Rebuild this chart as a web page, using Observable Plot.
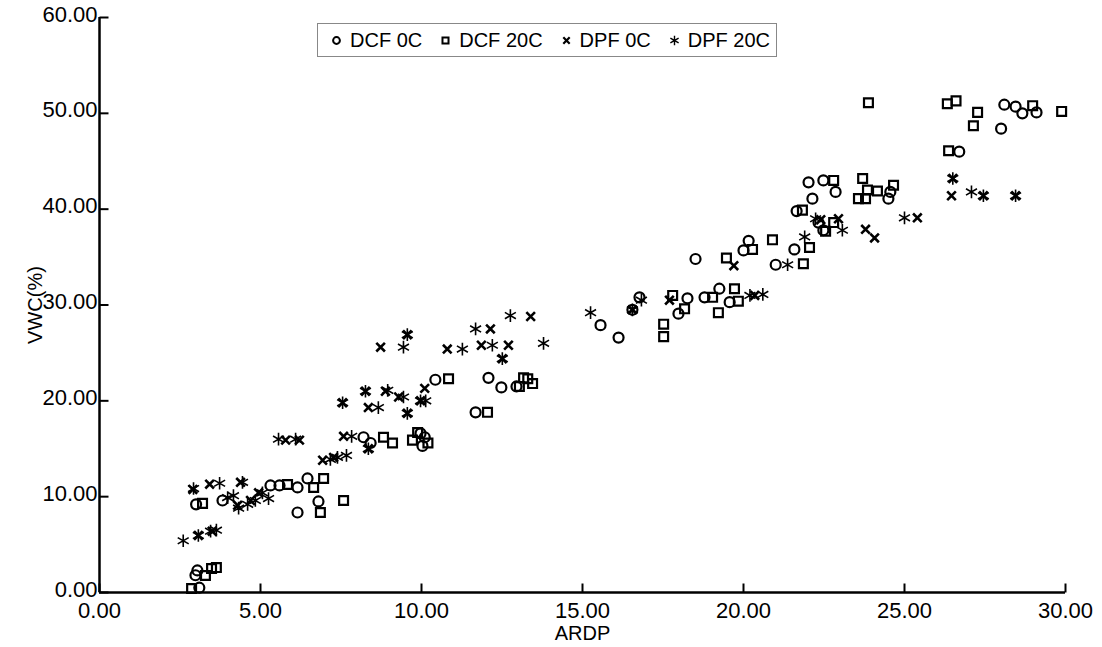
<!DOCTYPE html>
<html>
<head>
<meta charset="utf-8">
<script src="https://cdn.jsdelivr.net/npm/d3@7"></script>
<script src="https://cdn.jsdelivr.net/npm/@observablehq/plot@0.6"></script>
<style>
  html, body { margin: 0; padding: 0; background: #fff; }
  #wrap { position: relative; width: 1102px; height: 647px; font-family: "Liberation Sans", Arial, sans-serif; }
  #legend { position: absolute; left: 317px; top: 23px; width: 458px; height: 32px; border: 1px solid #888; background: #fff;
            display: flex; align-items: center; font-size: 20px; color: #000; box-sizing: content-box; }
  #legend .item { display: flex; align-items: center; margin-left: 12px; }
  #legend .item svg { margin-right: 8px; }
</style>
</head>
<body>
<div id="wrap"></div>
<script>
// ---- data ----
const xTicks = [0, 5, 10, 15, 20, 25, 30];
const yTicks = [0, 10, 20, 30, 40, 50, 60];
const seriesNames = ["DCF 0C", "DCF 20C", "DPF 0C", "DPF 20C"];
const xLabel = "ARDP";
const yLabel = "VWC(%)";

const dcf0X = [3.04,2.98,3.1,3.0,3.82,5.31,5.59,6.15,6.46,6.8,6.15,8.2,8.42,9.97,10.1,10.03,10.43,11.68,12.08,12.48,12.95,15.56,16.12,16.55,16.77,17.98,18.26,18.51,18.79,19.25,19.57,20.0,20.16,21.0,21.58,21.65,22.02,22.14,22.48,22.86,22.33,22.48,24.5,24.56,26.7,28.0,28.1,28.45,28.66,29.1];
const dcf0Y = [2.3,1.8,0.5,9.2,9.6,11.17,11.17,10.96,11.9,9.5,8.35,16.2,15.6,16.6,16.2,15.3,22.2,18.8,22.4,21.4,21.5,27.9,26.6,29.5,30.8,29.1,30.7,34.8,30.8,31.7,30.3,35.7,36.7,34.2,35.8,39.8,42.8,41.1,43.0,41.8,38.6,37.8,41.1,41.8,46.0,48.4,50.9,50.7,50.0,50.1];

const dcf20X = [2.86,3.29,3.48,3.63,3.2,5.84,6.65,6.96,6.86,7.58,8.82,9.1,9.72,9.88,10.2,10.84,12.05,13.04,13.17,13.3,13.45,17.52,17.52,17.8,18.17,19.04,19.22,19.47,19.72,19.84,20.28,20.9,21.83,21.86,22.05,22.55,22.8,22.8,23.57,23.7,23.79,23.85,23.88,24.16,24.66,26.33,26.37,26.6,27.14,27.27,28.98,29.88];
const dcf20Y = [0.42,1.77,2.5,2.6,9.3,11.27,10.96,11.9,8.35,9.6,16.2,15.6,15.9,16.7,15.6,22.3,18.8,21.5,22.4,22.3,21.8,28.0,26.7,31.0,29.6,30.8,29.2,34.9,31.7,30.4,35.8,36.8,39.9,34.3,36.0,37.7,38.6,43.0,41.1,43.2,41.1,42.0,51.1,41.9,42.5,51.0,46.1,51.3,48.7,50.1,50.8,50.2];

const dpf0X = [3.07,3.5,2.9,3.42,4.38,4.29,4.69,4.94,5.78,6.21,6.93,7.27,7.58,7.55,8.26,8.35,8.35,8.73,8.88,9.29,9.56,9.56,9.97,10.1,10.8,11.86,12.14,12.51,12.7,13.39,16.55,17.7,19.7,20.35,22.95,22.4,23.79,24.07,25.4,26.46,26.5,27.45,28.45];
const dpf0Y = [5.95,6.4,10.75,11.3,11.5,9.1,9.6,10.4,15.9,15.9,13.8,14.1,16.3,19.8,21.0,19.3,15.0,25.6,21.0,20.4,18.7,26.9,20.0,21.3,25.4,25.8,27.5,24.4,25.8,28.8,29.5,30.5,34.1,31.0,39.0,38.9,37.9,37.0,39.1,41.4,43.2,41.4,41.4];

const dpf20X = [2.6,3.07,3.45,3.63,2.92,3.73,4.44,3.98,4.16,4.32,4.6,4.84,5.06,5.25,5.56,6.09,7.17,7.39,7.67,7.83,7.55,8.26,8.35,8.66,8.95,9.44,9.44,9.56,9.56,9.97,10.13,11.27,11.68,12.2,12.51,12.76,13.79,15.25,16.55,16.83,20.2,20.6,21.37,21.9,22.24,23.07,25.0,26.5,27.08,27.45,28.45];
const dpf20Y = [5.4,5.95,6.4,6.5,10.85,11.4,11.5,9.9,10.1,8.8,9.2,9.6,10.4,9.8,16.0,16.0,13.9,14.1,14.3,16.3,19.8,21.0,15.0,19.3,21.1,20.4,25.6,18.7,26.9,20.0,20.0,25.4,27.5,25.8,24.4,28.9,26.0,29.2,29.5,30.5,31.0,31.1,34.2,37.1,39.0,37.8,39.1,43.2,41.8,41.4,41.4];

// ---- build tables ----
const toRows = (xs, ys) => xs.map((x, i) => ({x, y: ys[i]}));
const dcf0 = toRows(dcf0X, dcf0Y);
const dcf20 = toRows(dcf20X, dcf20Y);
const dpf0 = toRows(dpf0X, dpf0Y);
const dpf20 = toRows(dpf20X, dpf20Y);

// inward tick symbols
const tickUp = { draw(ctx) { ctx.moveTo(0, 0); ctx.lineTo(0, -9); } };
const tickRight = { draw(ctx) { ctx.moveTo(0, 0); ctx.lineTo(9, 0); } };

const fmt = d3.format(".2f");

const chart = Plot.plot({
  width: 1102,
  height: 647,
  marginLeft: 99,
  marginRight: 37,
  marginTop: 17,
  marginBottom: 55,
  style: { fontFamily: "Liberation Sans, Arial, sans-serif", fontSize: "22px", color: "#000", background: "#fff" },
  x: { domain: [0, 30], ticks: xTicks },
  y: { domain: [0, 60], ticks: yTicks },
  marks: [
    Plot.axisX({ ticks: xTicks, tickFormat: fmt, tickSize: 0, tickPadding: 10, label: null }),
    Plot.axisY({ ticks: yTicks, tickFormat: fmt, tickSize: 0, tickPadding: 2, dy: -3, label: null }),
    Plot.text([xLabel], { text: d => d, frameAnchor: "bottom", dy: 41, textAnchor: "middle", lineAnchor: "middle", fontSize: 20 }),
    Plot.text([yLabel], { text: d => d, frameAnchor: "left", dx: -64, rotate: -90, textAnchor: "middle", lineAnchor: "middle", fontSize: 20 }),
    Plot.dot(xTicks, { x: d => d, frameAnchor: "bottom", symbol: tickUp, stroke: "black", strokeWidth: 2 }),
    Plot.dot(yTicks, { y: d => d, frameAnchor: "left", symbol: tickRight, stroke: "black", strokeWidth: 2 }),
    Plot.ruleY([0], { stroke: "black", strokeWidth: 2.5 }),
    Plot.ruleX([0], { stroke: "black", strokeWidth: 2.5 }),
    Plot.dot(dcf0, { x: "x", y: "y", symbol: "circle", r: 5, fill: "none", stroke: "black", strokeWidth: 2.2 }),
    Plot.dot(dcf20, { x: "x", y: "y", symbol: "square", r: 5, fill: "none", stroke: "black", strokeWidth: 2.2 }),
    Plot.dot(dpf0, { x: "x", y: "y", symbol: "times", r: 4, fill: "none", stroke: "black", strokeWidth: 2.6 }),
    Plot.dot(dpf20, { x: "x", y: "y", symbol: "asterisk", r: 6, fill: "none", stroke: "black", strokeWidth: 1.6 })
  ]
});

const wrap = document.getElementById("wrap");
wrap.appendChild(chart);

// ---- legend ----
const legendSymbols = ["circle", "square", "times", "asterisk"];
const legendStyles = [
  { r: 3.4, sw: 2 }, { r: 3.4, sw: 2 }, { r: 3.0, sw: 2.2 }, { r: 4.5, sw: 1.4 }
];
const legend = document.createElement("div");
legend.id = "legend";
seriesNames.forEach((name, i) => {
  const item = document.createElement("div");
  item.className = "item";
  if (i > 0) item.style.marginLeft = "17px";
  const s = legendStyles[i];
  const sym = Plot.dot([0], {
    x: d => d, y: d => d, symbol: legendSymbols[i], r: s.r, fill: "none", stroke: "black", strokeWidth: s.sw
  }).plot({ width: 12, height: 12, margin: 0, axis: null, x: { domain: [-1, 1] }, y: { domain: [-1, 1] } });
  sym.style.display = "block";
  item.appendChild(sym);
  const t = document.createElement("span");
  t.textContent = name;
  item.appendChild(t);
  legend.appendChild(item);
});
wrap.appendChild(legend);
</script>
</body>
</html>
